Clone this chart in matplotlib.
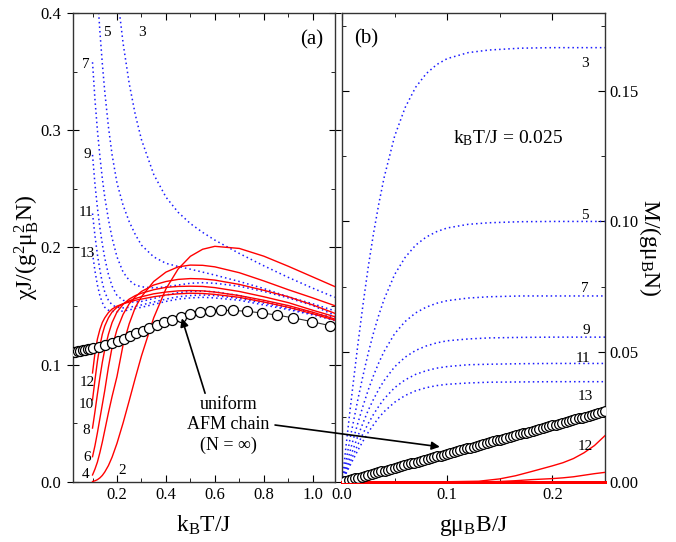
import matplotlib
matplotlib.use('Agg')
import matplotlib.pyplot as plt
from matplotlib.ticker import MultipleLocator

plt.rcParams['font.family'] = ['Liberation Serif', 'DejaVu Serif']
plt.rcParams['mathtext.fontset'] = 'custom'
plt.rcParams['mathtext.rm'] = 'Liberation Serif'
plt.rcParams['mathtext.it'] = 'Liberation Serif:italic'
plt.rcParams['mathtext.bf'] = 'Liberation Serif:bold'

# ---------------- panel (a): susceptibility vs temperature ----------------
T_grid = [0.10, 0.11, 0.12, 0.13, 0.14, 0.15, 0.165, 0.18, 0.2, 0.225, 0.25, 0.275,
          0.3, 0.35, 0.4, 0.45, 0.5, 0.55, 0.6, 0.7, 0.8, 0.9, 1.0, 1.09]

chi_N2 = [0.00045, 0.00102, 0.0020, 0.0035, 0.0056, 0.0085, 0.0140, 0.0212, 0.0330, 0.0504,
          0.0694, 0.0888, 0.1075, 0.1400, 0.1647, 0.1817, 0.1925, 0.1985, 0.2010, 0.1992,
          0.1926, 0.1840, 0.1749, 0.1667]
chi_N4 = [0.006, 0.011, 0.017, 0.025, 0.034, 0.044, 0.059, 0.073, 0.090, 0.117, 0.135, 0.149,
          0.158, 0.171, 0.179, 0.1835, 0.185, 0.1848, 0.1835, 0.1785, 0.1715, 0.164, 0.157, 0.1504]
chi_N6 = [0.0216, 0.031, 0.042, 0.054, 0.066, 0.078, 0.098, 0.115, 0.130, 0.143, 0.152, 0.158,
          0.1625, 0.168, 0.171, 0.1728, 0.1735, 0.1732, 0.1722, 0.1685, 0.1635, 0.158, 0.151, 0.1439]
chi_N8 = [0.046, 0.060, 0.075, 0.089, 0.102, 0.113, 0.126, 0.136, 0.145, 0.1515, 0.156, 0.159,
          0.161, 0.164, 0.166, 0.1668, 0.167, 0.1668, 0.1658, 0.1625, 0.158, 0.153, 0.1465, 0.141]
chi_N10 = [0.070, 0.087, 0.103, 0.116, 0.126, 0.133, 0.140, 0.145, 0.149, 0.152, 0.1545, 0.1565,
           0.158, 0.1605, 0.162, 0.163, 0.1633, 0.163, 0.162, 0.159, 0.155, 0.1505, 0.1448, 0.139]
chi_N12 = [0.093, 0.110, 0.122, 0.130, 0.136, 0.140, 0.1445, 0.1475, 0.150, 0.152, 0.1535, 0.155,
           0.156, 0.158, 0.1595, 0.1605, 0.161, 0.1608, 0.160, 0.1575, 0.1535, 0.149, 0.1435, 0.138]

chi_N3 = [0.8333, 0.7576, 0.6944, 0.6410, 0.5952, 0.5556, 0.5051, 0.4630, 0.4185, 0.3741,
          0.3398, 0.3131, 0.2920, 0.2624, 0.2430, 0.2300, 0.2204, 0.2129, 0.2063, 0.1949,
          0.1844, 0.1745, 0.1653, 0.1575]
chi_N5 = [0.500, 0.4545, 0.4167, 0.3846, 0.357, 0.333, 0.303, 0.279, 0.255, 0.236, 0.222, 0.211,
          0.202, 0.192, 0.1865, 0.1838, 0.1815, 0.179, 0.1765, 0.171, 0.165, 0.158, 0.152, 0.146]
chi_N7 = [0.358, 0.326, 0.300, 0.278, 0.259, 0.243, 0.224, 0.208, 0.192, 0.179, 0.172, 0.168,
          0.1665, 0.1655, 0.1665, 0.168, 0.1695, 0.170, 0.1695, 0.167, 0.1625, 0.157, 0.1505, 0.1422]
chi_N9 = [0.279, 0.254, 0.234, 0.217, 0.203, 0.191, 0.177, 0.167, 0.159, 0.155, 0.1535, 0.1535,
          0.154, 0.1565, 0.1595, 0.1615, 0.1625, 0.1628, 0.1622, 0.159, 0.1545, 0.1495, 0.1445, 0.140]
chi_N11 = [0.229, 0.210, 0.194, 0.181, 0.170, 0.162, 0.155, 0.151, 0.149, 0.1485, 0.149, 0.150,
           0.151, 0.1535, 0.156, 0.158, 0.159, 0.1595, 0.159, 0.1565, 0.1525, 0.148, 0.1433, 0.1385]
chi_N13 = [0.195, 0.180, 0.168, 0.159, 0.153, 0.149, 0.1465, 0.1455, 0.1453, 0.1458, 0.1468, 0.148,
           0.149, 0.1515, 0.154, 0.156, 0.157, 0.1575, 0.157, 0.155, 0.151, 0.147, 0.1425, 0.1378]

T_chain = [0.020, 0.030, 0.040, 0.050, 0.060, 0.070, 0.080, 0.090, 0.100, 0.126, 0.153, 0.179,
           0.204, 0.228, 0.252, 0.278, 0.305, 0.332, 0.362, 0.393, 0.425, 0.460, 0.497, 0.538,
           0.579, 0.627, 0.675, 0.730, 0.791, 0.852, 0.920, 0.996, 1.071]
chi_chain = [0.1105, 0.1110, 0.1115, 0.1120, 0.1124, 0.1128, 0.1132, 0.1136, 0.1140, 0.1152,
             0.1167, 0.1183, 0.1203, 0.1223, 0.1245, 0.1268, 0.1292, 0.1316, 0.1340, 0.1364,
             0.1385, 0.1408, 0.1430, 0.1447, 0.1458, 0.1464, 0.1463, 0.1456, 0.1442, 0.1424,
             0.1400, 0.1368, 0.1333]

# ---------------- panel (b): magnetization vs field ----------------
B_odd = [0, 0.0025, 0.005, 0.0075, 0.01, 0.015, 0.02, 0.025, 0.03, 0.035, 0.04, 0.05, 0.06,
         0.07, 0.08, 0.09, 0.10, 0.12, 0.14, 0.17, 0.20, 0.25]
M_N3 = [0, 0.0090, 0.0180, 0.0270, 0.0357, 0.0525, 0.0682, 0.0827, 0.0955, 0.1068, 0.1168,
        0.1327, 0.1437, 0.1515, 0.1567, 0.1602, 0.1625, 0.1648, 0.1658, 0.1665, 0.1667, 0.1667]
M_N5 = [0, 0.0054, 0.0108, 0.0162, 0.0214, 0.0315, 0.0409, 0.0496, 0.0573, 0.0641, 0.0701,
        0.0796, 0.0862, 0.0909, 0.0940, 0.0961, 0.0975, 0.0989, 0.0995, 0.0999, 0.1, 0.1]
M_N7 = [0, 0.0039, 0.0077, 0.0116, 0.0153, 0.0225, 0.0292, 0.0354, 0.0409, 0.0458, 0.0501,
        0.0569, 0.0616, 0.0649, 0.0671, 0.0686, 0.0696, 0.0706, 0.0711, 0.0714, 0.0714, 0.0714]
M_N9 = [0, 0.0030, 0.0060, 0.0090, 0.0119, 0.0175, 0.0227, 0.0276, 0.0318, 0.0356, 0.0389,
        0.0442, 0.0479, 0.0505, 0.0522, 0.0534, 0.0542, 0.0549, 0.0553, 0.0555, 0.0556, 0.0556]
M_N11 = [0, 0.0025, 0.0049, 0.0074, 0.0097, 0.0143, 0.0186, 0.0225, 0.0260, 0.0291, 0.0319,
         0.0362, 0.0392, 0.0413, 0.0427, 0.0437, 0.0443, 0.0450, 0.0452, 0.0454, 0.0455, 0.0455]
M_N13 = [0, 0.0021, 0.0042, 0.0062, 0.0082, 0.0121, 0.0157, 0.0191, 0.0220, 0.0247, 0.0270,
         0.0306, 0.0332, 0.0350, 0.0362, 0.0370, 0.0375, 0.0380, 0.0383, 0.0384, 0.0385, 0.0385]

B_even = [0, 0.05, 0.10, 0.13, 0.15, 0.165, 0.18, 0.20, 0.21, 0.22, 0.23, 0.24, 0.25]
M_N12 = [0, 0, 0.0001, 0.0003, 0.0012, 0.0024, 0.0040, 0.0062, 0.0074, 0.0090, 0.0112, 0.0140, 0.0178]
M_N10 = [0, 0, 0, 0, 0.0002, 0.0005, 0.0009, 0.0013, 0.0016, 0.0020, 0.0026, 0.0032, 0.0037]
M_small = [0, 0, 0, 0, 0, 0, 0, 0, 0, 0, 0, 0, 0]   # N = 2, 4, 6, 8

B_chain = [0.0000, 0.0031, 0.0063, 0.0094, 0.0125, 0.0156, 0.0188, 0.0219,
           0.0250, 0.0281, 0.0313, 0.0344, 0.0375, 0.0406, 0.0438, 0.0469,
           0.0500, 0.0531, 0.0563, 0.0594, 0.0625, 0.0656, 0.0688, 0.0719,
           0.0750, 0.0781, 0.0813, 0.0844, 0.0875, 0.0906, 0.0938, 0.0969,
           0.1000, 0.1031, 0.1063, 0.1094, 0.1125, 0.1156, 0.1188, 0.1219,
           0.1250, 0.1281, 0.1313, 0.1344, 0.1375, 0.1406, 0.1438, 0.1469,
           0.1500, 0.1531, 0.1563, 0.1594, 0.1625, 0.1656, 0.1688, 0.1719,
           0.1750, 0.1781, 0.1813, 0.1844, 0.1875, 0.1906, 0.1938, 0.1969,
           0.2000, 0.2031, 0.2063, 0.2094, 0.2125, 0.2156, 0.2188, 0.2219,
           0.2250, 0.2281, 0.2313, 0.2344, 0.2375, 0.2406, 0.2438, 0.2469, 0.2500]
M_chain = [0, 0.00034, 0.00068, 0.00102, 0.00136, 0.00170, 0.00203, 0.00237,
           0.00271, 0.00305, 0.00339, 0.00373, 0.00407, 0.00441, 0.00475, 0.00509,
           0.00542, 0.00576, 0.00610, 0.00644, 0.00678, 0.00712, 0.00746, 0.00780,
           0.00814, 0.00848, 0.00881, 0.00915, 0.00949, 0.00983, 0.01017, 0.01051,
           0.01085, 0.01119, 0.01153, 0.01187, 0.01220, 0.01254, 0.01288, 0.01322,
           0.01356, 0.01390, 0.01424, 0.01458, 0.01492, 0.01526, 0.01559, 0.01593,
           0.01627, 0.01661, 0.01695, 0.01729, 0.01763, 0.01797, 0.01831, 0.01865,
           0.01898, 0.01932, 0.01966, 0.02000, 0.02034, 0.02068, 0.02102, 0.02136,
           0.02170, 0.02204, 0.02237, 0.02271, 0.02305, 0.02339, 0.02373, 0.02407,
           0.02441, 0.02475, 0.02509, 0.02543, 0.02576, 0.02610, 0.02644, 0.02678, 0.02712]

odd_labels_a = ['3', '5', '7', '9', '11', '13']
odd_pos_a = [(0.302, 0.383), (0.159, 0.383), (0.073, 0.356), (0.077, 0.279), (0.073, 0.230), (0.077, 0.195)]
even_labels_a = ['2', '4', '6', '8', '10', '12']
even_pos_a = [(0.220, 0.0102), (0.073, 0.0068), (0.077, 0.0205), (0.073, 0.0435), (0.073, 0.0665), (0.077, 0.085)]
labels_b = ['3', '5', '7', '9', '11', '13', '12']
pos_b = [(0.2308, 0.1605), (0.2308, 0.1023), (0.2308, 0.0743), (0.2324, 0.0582), (0.2289, 0.0475),
         (0.2308, 0.0327), (0.2308, 0.0135)]

# ---------------- figure ----------------
W, H = 676, 542
fig = plt.figure(figsize=(W / 100, H / 100), dpi=100)
ax1 = fig.add_axes([72.7 / W, 60 / H, 262.3 / W, 469 / H])
ax2 = fig.add_axes([342 / W, 60 / H, 263 / W, 469 / H])

blue = '#1a1aff'
dot = (0, (1, 2))
lw_line = 1.0

for ch in [chi_N3, chi_N5, chi_N7, chi_N9, chi_N11, chi_N13]:
    ax1.plot(T_grid, ch, color=blue, lw=1.1, linestyle=dot, zorder=2)
for ch in [chi_N2, chi_N4, chi_N6, chi_N8, chi_N10, chi_N12]:
    ax1.plot(T_grid, ch, color='red', lw=lw_line, zorder=3)
ax1.plot(T_chain, chi_chain, color='#333333', lw=0.8, marker='o', ms=7.2,
         mfc='white', mec='black', mew=0.9, zorder=4)

ax1.set_xlim(0.019, 1.091)
ax1.set_ylim(0.0, 0.4)
ax1.xaxis.set_major_locator(MultipleLocator(0.2))
ax1.xaxis.set_minor_locator(MultipleLocator(0.1))
ax1.yaxis.set_major_locator(MultipleLocator(0.1))
ax1.yaxis.set_minor_locator(MultipleLocator(0.05))
ax1.set_xticks([0.2, 0.4, 0.6, 0.8, 1.0])
ax1.tick_params(which='both', top=True, right=True, labelsize=12)
ax1.tick_params(axis='x', which='major', direction='in', length=5)
ax1.tick_params(axis='y', which='major', direction='inout', length=9)
ax1.tick_params(which='minor', direction='in', length=3)
ax1.set_xlabel(r'k$_\mathregular{B}$T/J', fontsize=17, labelpad=8)
ax1.set_ylabel(r'χJ/(g$^\mathregular{2}$μ$_\mathregular{B}^\mathregular{2}$N)', fontsize=17, labelpad=0)

for lab, (x, y) in zip(odd_labels_a, odd_pos_a):
    ax1.text(x, y, lab, fontsize=11, ha='center', va='center')
for lab, (x, y) in zip(even_labels_a, even_pos_a):
    ax1.text(x, y, lab, fontsize=11, ha='center', va='center')
ax1.text(0.997, 0.377, '(a)', fontsize=15, ha='center', va='center')

ax1.text(0.655, 0.0486, 'uniform\nAFM chain\n(N = ∞)', fontsize=13, ha='center', va='center',
         linespacing=1.25)
ax1.annotate('', xy=(0.465, 0.1396), xytext=(0.560, 0.0757),
             arrowprops=dict(arrowstyle='-|>', color='black', lw=1.2, mutation_scale=12,
                             shrinkA=0, shrinkB=0), zorder=6)

# panel (b)
for m in [M_N3, M_N5, M_N7, M_N9, M_N11, M_N13]:
    ax2.plot(B_odd, m, color=blue, lw=1.1, linestyle=dot, zorder=2)
for m in [M_small, M_small, M_small, M_small]:
    ax2.plot(B_even, m, color='red', lw=2.0, zorder=3, clip_on=False)
ax2.plot(B_even, M_N10, color='red', lw=lw_line, zorder=3)
ax2.plot(B_even, M_N12, color='red', lw=lw_line, zorder=3)
ax2.plot(B_chain, M_chain, color='#333333', lw=0.8, marker='o', ms=7.0,
         mfc='white', mec='black', mew=0.9, zorder=4)

ax2.set_xlim(0.0, 0.25)
ax2.set_ylim(0.0, 0.18)
ax2.xaxis.set_major_locator(MultipleLocator(0.1))
ax2.xaxis.set_minor_locator(MultipleLocator(0.05))
ax2.yaxis.set_major_locator(MultipleLocator(0.05))
ax2.yaxis.set_minor_locator(MultipleLocator(0.025))
ax2.yaxis.tick_right()
ax2.yaxis.set_label_position('right')
ax2.tick_params(which='both', top=True, left=True, right=True, labelleft=False,
                labelright=True, labelsize=12)
ax2.tick_params(which='major', direction='in', length=5)
ax2.tick_params(which='minor', direction='in', length=3)
ax2.set_xlabel(r'gμ$_\mathregular{B}$B/J', fontsize=17, labelpad=8)
ax2.set_ylabel(r'M/(gμ$_\mathregular{B}$N)', fontsize=17, rotation=270, labelpad=17)

for lab, (x, y) in zip(labels_b, pos_b):
    ax2.text(x, y, lab, fontsize=11, ha='center', va='center')
ax2.text(0.0228, 0.170, '(b)', fontsize=15, ha='center', va='center')
ax2.text(0.158, 0.1318, r'k$_\mathregular{B}$T/J = 0.025', fontsize=14, ha='center', va='center')

ax2.annotate('', xy=(0.093, 0.0135), xycoords=ax2.transData,
             xytext=(0.846, 0.0486), textcoords=ax1.transData,
             arrowprops=dict(arrowstyle='-|>', color='black', lw=1.2, mutation_scale=12,
                             shrinkA=0, shrinkB=0),
             annotation_clip=False, zorder=6)

for ax in (ax1, ax2):
    for s in ax.spines.values():
        s.set_color('#333333')
        s.set_linewidth(1.0)

fig.savefig('out.png', dpi=100)
